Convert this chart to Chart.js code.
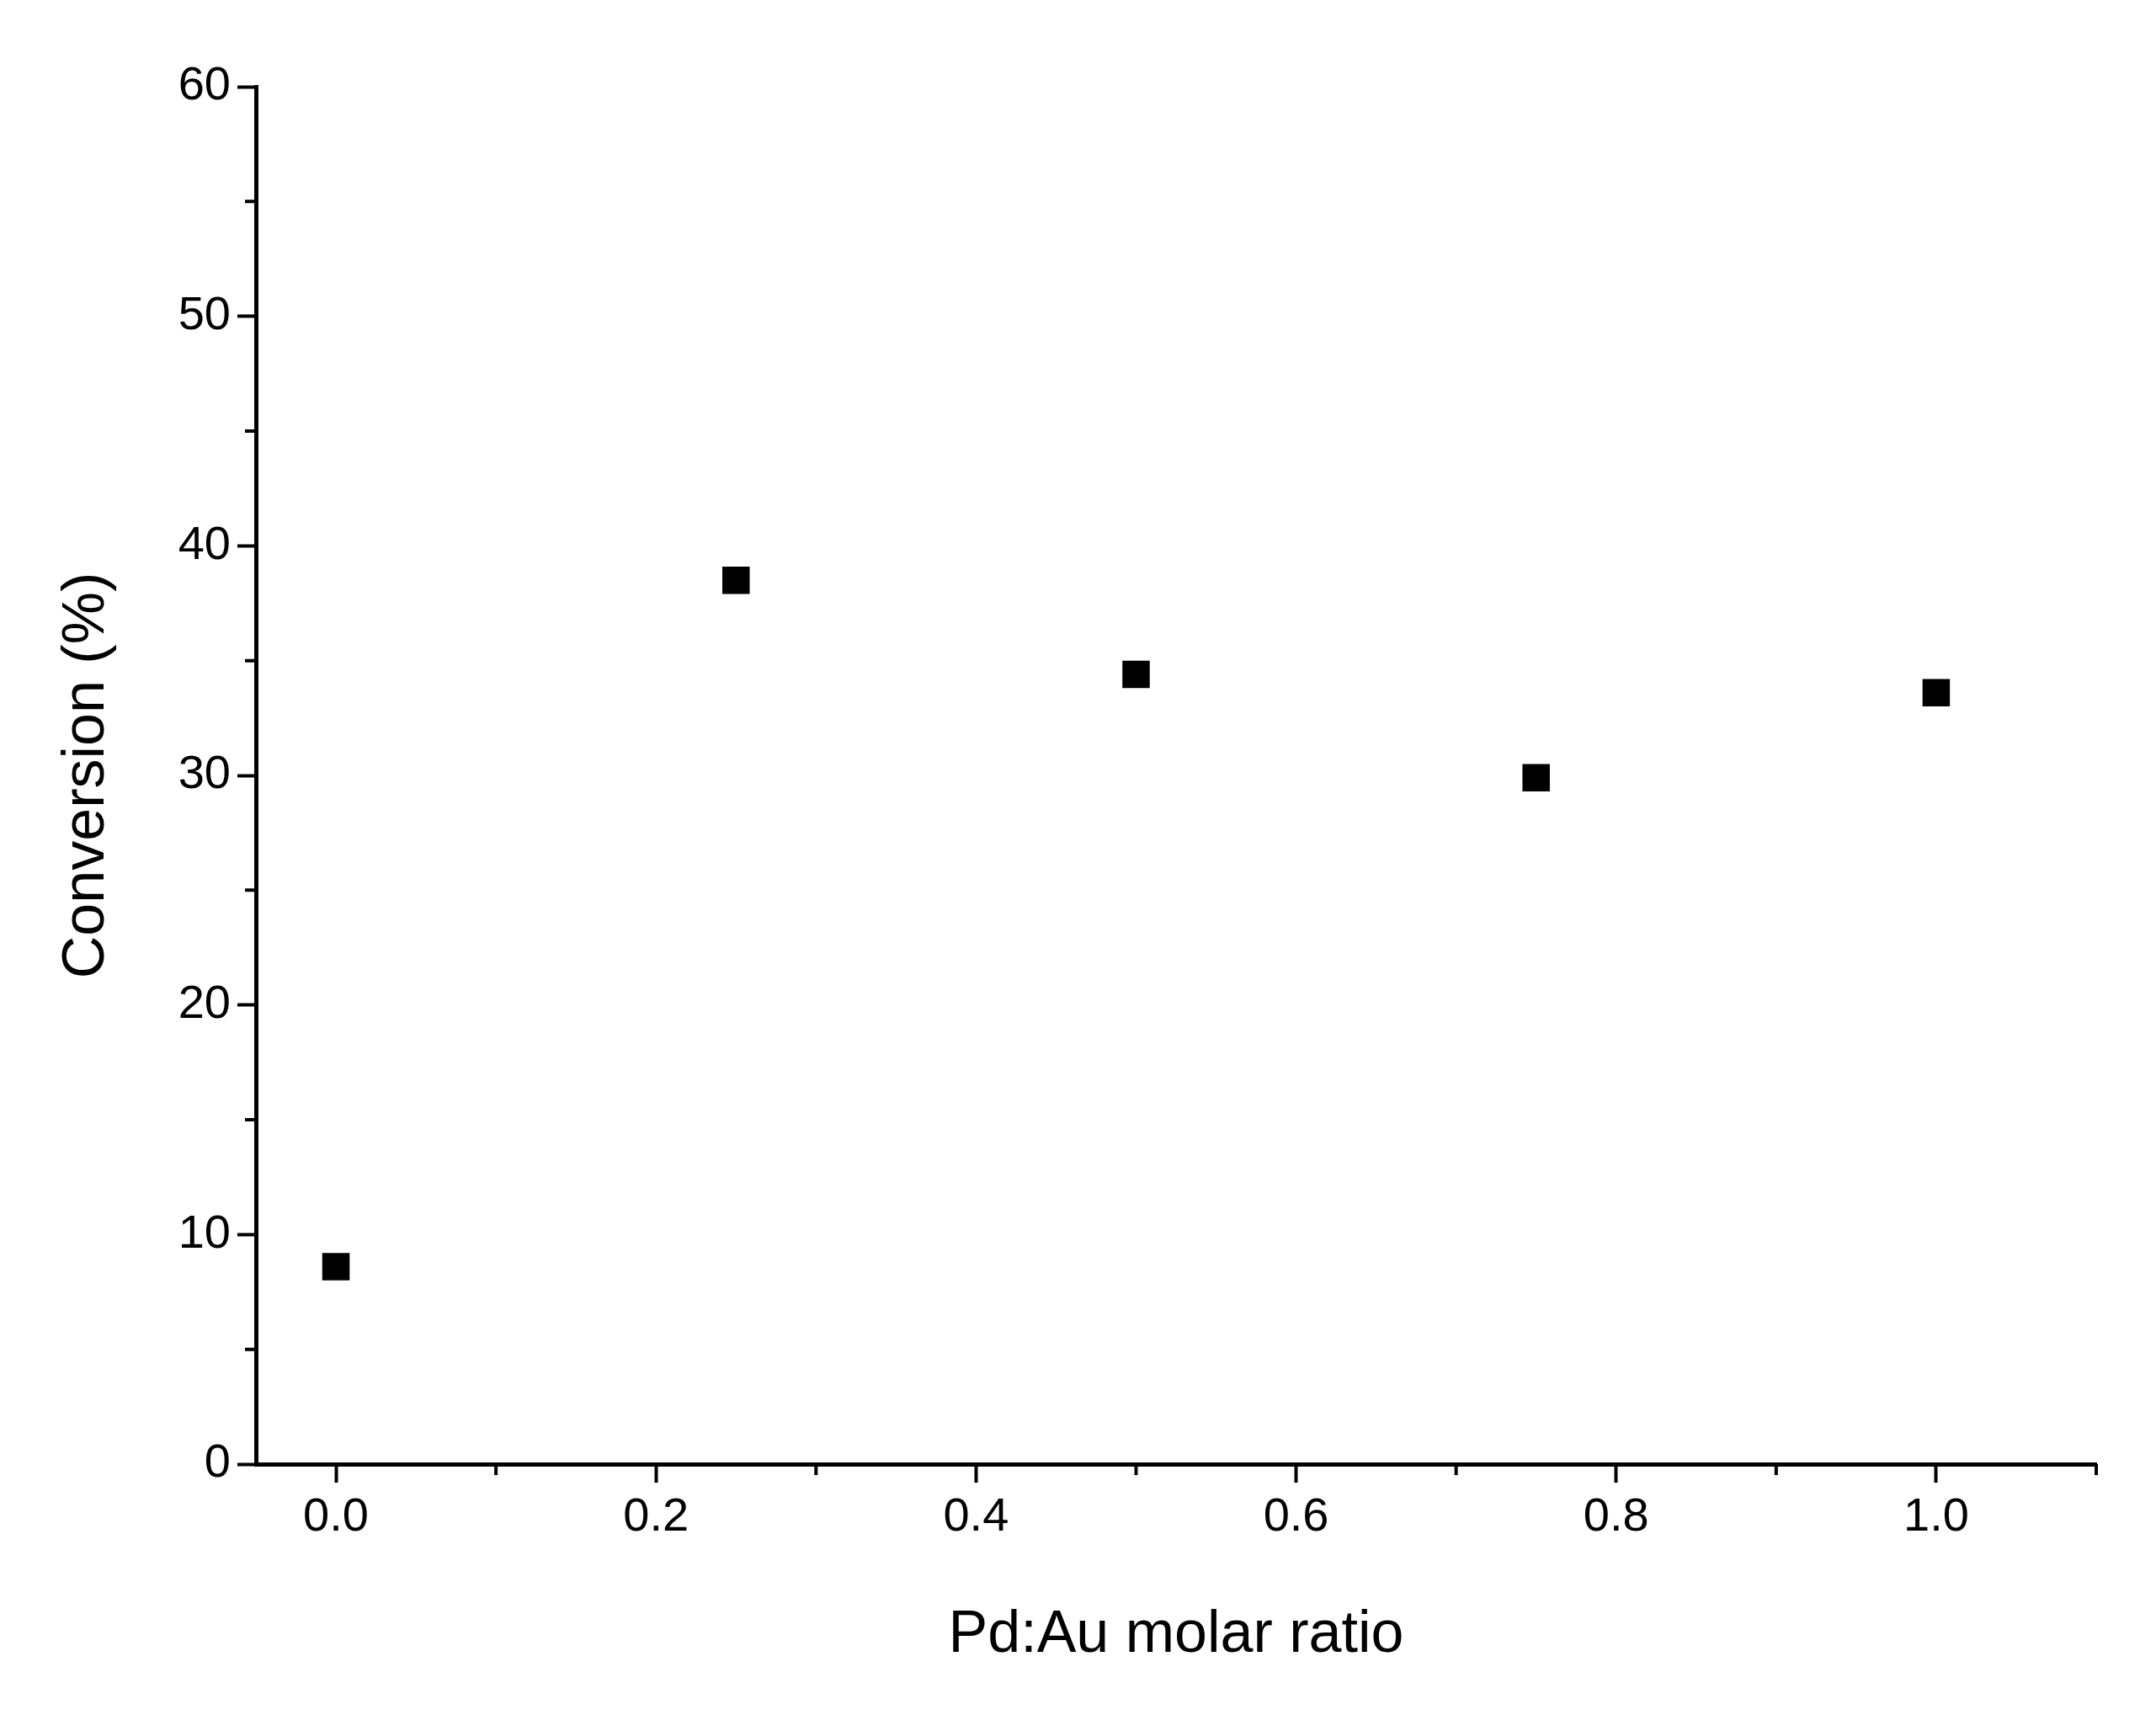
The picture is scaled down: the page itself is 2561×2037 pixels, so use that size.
<!DOCTYPE html>
<html>
<head>
<meta charset="utf-8">
<script src="https://cdn.jsdelivr.net/npm/chart.js@4"></script>
<style>
  body { margin: 0; background: #fff; }
</style>
</head>
<body>
<canvas id="grafica"></canvas>
<script>
// Datos
const ratios = [0.0, 0.25, 0.5, 0.75, 1.0];
const conversion = [8.6, 38.5, 34.4, 29.9, 33.6];
const xMinorTicks = [0.1, 0.3, 0.5, 0.7, 0.9, 1.1];
const yMinorTicks = [5, 15, 25, 35, 45, 55];

const canvas = document.getElementById("grafica");
canvas.width = 2561;
canvas.height = 2037;

// Marcas menores dibujadas con las escalas del grafico
const minorTicks = {
    id: "minorTicks",
    afterDraw(chart) {
        const ctx = chart.ctx;
        const xs = chart.scales.x, ys = chart.scales.y;
        ctx.save();
        ctx.strokeStyle = "#000";
        ctx.lineWidth = 4;
        ctx.beginPath();
        xMinorTicks.forEach(v => {
            const px = xs.getPixelForValue(v);
            ctx.moveTo(px, xs.top);
            ctx.lineTo(px, xs.top + 13);
        });
        yMinorTicks.forEach(v => {
            const py = ys.getPixelForValue(v);
            ctx.moveTo(ys.right, py);
            ctx.lineTo(ys.right - 13, py);
        });
        ctx.stroke();
        ctx.restore();
    }
};

const font = { family: "Arial, 'Liberation Sans', sans-serif" };

new Chart(canvas, {
    type: "scatter",
    data: {
        datasets: [{
            data: ratios.map((r, i) => ({ x: r, y: conversion[i] })),
            pointStyle: "rect",
            pointRadius: 23,
            pointHoverRadius: 23,
            backgroundColor: "#000",
            borderColor: "#000",
            borderWidth: 0
        }]
    },
    options: {
        responsive: false,
        animation: false,
        layout: { padding: { top: 103, right: 71, left: 0, bottom: 0 } },
        plugins: { legend: { display: false }, tooltip: { enabled: false } },
        scales: {
            x: {
                type: "linear",
                min: -0.05,
                max: 1.1,
                afterBuildTicks: s => { s.ticks = [0, 0.2, 0.4, 0.6, 0.8, 1.0].map(v => ({ value: v })); },
                afterFit: s => { s.height = 298; },
                ticks: {
                    color: "#000",
                    font: { ...font, size: 56 },
                    padding: 8,
                    callback: v => v.toFixed(1)
                },
                grid: { drawOnChartArea: false, tickLength: 22, tickWidth: 4, color: "#000" },
                border: { color: "#000", width: 5 },
                title: {
                    display: true,
                    text: "Pd:Au molar ratio",
                    color: "#000",
                    font: { ...font, size: 70 },
                    padding: { top: 40, bottom: 52 }
                }
            },
            y: {
                min: 0,
                max: 60,
                afterBuildTicks: s => { s.ticks = [0, 10, 20, 30, 40, 50, 60].map(v => ({ value: v })); },
                afterFit: s => { s.width = 304; },
                ticks: {
                    color: "#000",
                    font: { ...font, size: 56 },
                    padding: 8
                },
                grid: { drawOnChartArea: false, tickLength: 22, tickWidth: 4, color: "#000" },
                border: { color: "#000", width: 5 },
                title: {
                    display: true,
                    text: "Conversion (%)",
                    color: "#000",
                    font: { ...font, size: 70 },
                    padding: { top: 62, bottom: 20 }
                }
            }
        }
    },
    plugins: [minorTicks]
});
</script>
</body>
</html>
